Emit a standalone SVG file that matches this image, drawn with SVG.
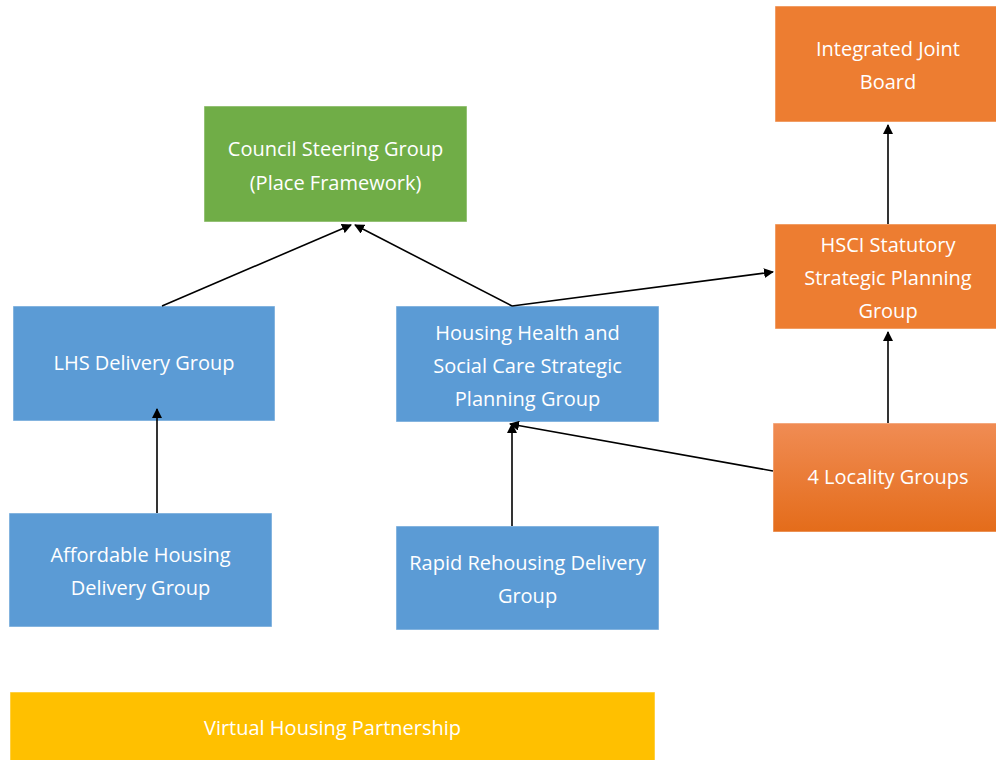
<svg xmlns="http://www.w3.org/2000/svg" width="996" height="760" viewBox="0 0 996 760">
<defs>
<style>
.box{stroke:#ffffff;stroke-opacity:0.5;stroke-width:1}
.blue{fill:#5B9BD5}
.orange{fill:#ED7D31}
.green{fill:#70AD47}
.yellow{fill:#FFC000}
text{font-family:"Open Sans","Liberation Sans",Arial,sans-serif;font-size:20px;fill:#ffffff;text-anchor:middle}
.conn{stroke:#000000;stroke-width:1.6;fill:none;marker-end:url(#arr)}
</style>
<marker id="arr" markerWidth="10" markerHeight="10" refX="9" refY="5" orient="auto" markerUnits="userSpaceOnUse">
<path d="M0,0 L10,5 L0,10 Z" fill="#000000"/>
</marker>
<linearGradient id="locGrad" x1="0" y1="0" x2="0" y2="1">
<stop offset="0" stop-color="#F08C54"/>
<stop offset="1" stop-color="#E46C1A"/>
</linearGradient>
</defs>
<rect width="996" height="760" fill="#ffffff"/>

<g id="council">
<rect class="box green" x="204" y="106" width="263" height="116"/>
<text x="335.5" y="156">Council Steering Group</text>
<text x="335.5" y="190">(Place Framework)</text>
</g>
<g id="ijb">
<rect class="box orange" x="775" y="6" width="222" height="116"/>
<text x="888" y="56">Integrated Joint</text>
<text x="888" y="89">Board</text>
</g>
<g id="hsci">
<rect class="box orange" x="775" y="224" width="222" height="105"/>
<text x="888" y="252">HSCI Statutory</text>
<text x="888" y="285">Strategic Planning</text>
<text x="888" y="318">Group</text>
</g>
<g id="locality">
<rect class="box" fill="url(#locGrad)" x="773" y="423" width="224" height="109"/>
<text x="888" y="484">4 Locality Groups</text>
</g>
<g id="lhs">
<rect class="box blue" x="13" y="306" width="262" height="115"/>
<text x="144" y="370">LHS Delivery Group</text>
</g>
<g id="hhsc">
<rect class="box blue" x="396" y="306" width="263" height="116"/>
<text x="527.5" y="340">Housing Health and</text>
<text x="527.5" y="373">Social Care Strategic</text>
<text x="527.5" y="406">Planning Group</text>
</g>
<g id="affordable">
<rect class="box blue" x="9" y="513" width="263" height="114"/>
<text x="140.5" y="562">Affordable Housing</text>
<text x="140.5" y="595">Delivery Group</text>
</g>
<g id="rapid">
<rect class="box blue" x="396" y="526" width="263" height="104"/>
<text x="527.5" y="570">Rapid Rehousing Delivery</text>
<text x="527.5" y="603">Group</text>
</g>
<g id="virtual">
<rect class="box yellow" x="10" y="692" width="645" height="69"/>
<text x="332.5" y="735">Virtual Housing Partnership</text>
</g>

<g id="connectors">
<line class="conn" x1="162" y1="306" x2="351" y2="225"/>
<line class="conn" x1="512" y1="306" x2="355" y2="225"/>
<line class="conn" x1="512" y1="306" x2="773" y2="272"/>
<line class="conn" x1="888" y1="224" x2="888" y2="125"/>
<line class="conn" x1="888" y1="423" x2="888" y2="332"/>
<line class="conn" x1="773" y1="471" x2="510" y2="424"/>
<line class="conn" x1="512" y1="526" x2="512" y2="424"/>
<line class="conn" x1="157" y1="513" x2="157" y2="409"/>
</g>
</svg>
